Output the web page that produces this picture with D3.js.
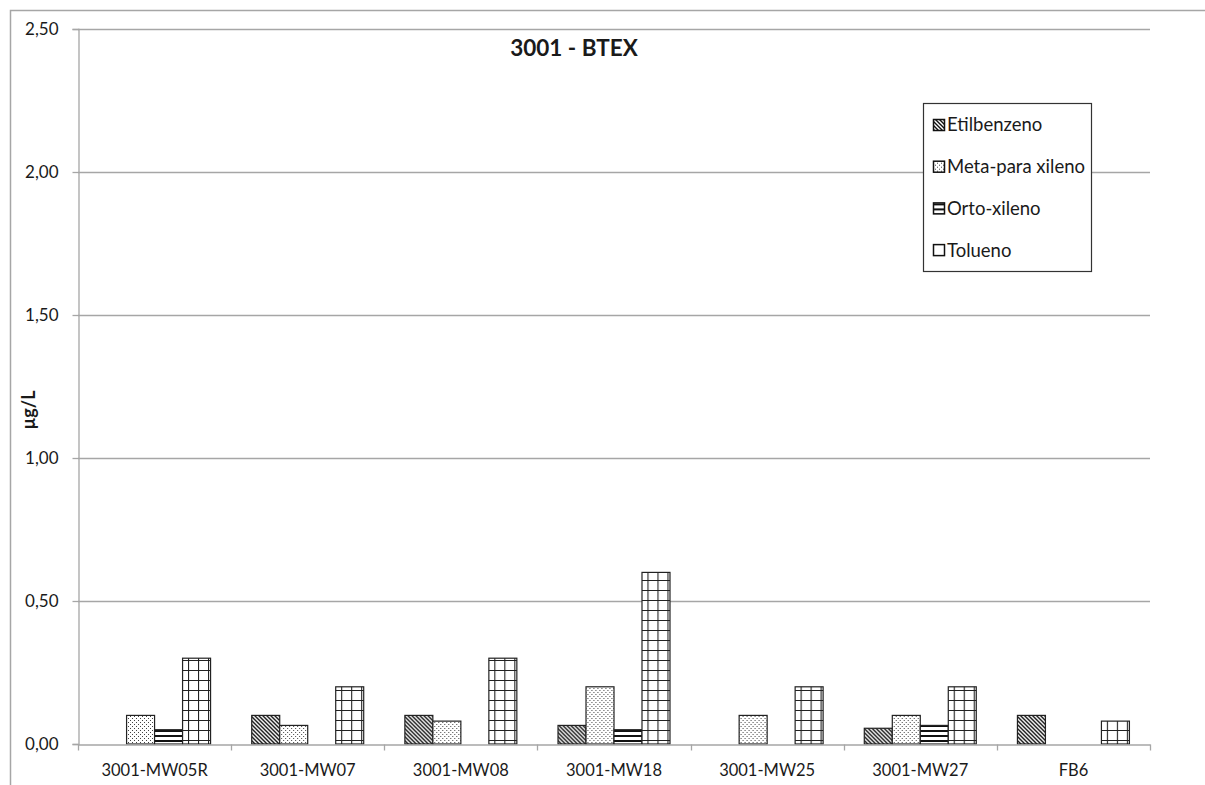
<!DOCTYPE html>
<html>
<head>
<meta charset="utf-8">
<script src="https://cdn.jsdelivr.net/npm/d3@7"></script>
<style>
  html, body { margin: 0; padding: 0; background: #fff; }
  svg { display: block; }
  text { font-family: Lato, "Open Sans", "Liberation Sans", sans-serif; fill: #1a1a1a; }
</style>
</head>
<body>
<svg id="chart" width="1205" height="785"></svg>
<script>
// Sampling wells and BTEX compounds
const categories = ["3001-MW05R", "3001-MW07", "3001-MW08", "3001-MW18", "3001-MW25", "3001-MW27", "FB6"];
const series = ["Etilbenzeno", "Meta-para xileno", "Orto-xileno", "Tolueno"];

// Concentrations (µg/L) per well, null = not detected
const etilbenzeno    = [null, 0.10, 0.10, 0.065, null, 0.055, 0.10];
const metaParaXileno = [0.10, 0.065, 0.08, 0.20, 0.10, 0.10, null];
const ortoXileno     = [0.05, null, null, 0.05, null, 0.065, null];
const tolueno        = [0.30, 0.20, 0.30, 0.60, 0.20, 0.20, 0.08];

const yTicks = [0, 0.5, 1.0, 1.5, 2.0, 2.5];
const title = "3001 - BTEX";
const yTitle = "µg/L";

const values = [etilbenzeno, metaParaXileno, ortoXileno, tolueno];

const svg = d3.select("#chart");
const plot = { left: 78, right: 1150, top: 29, bottom: 744 };

// Hatch fills
const defs = svg.append("defs");
const pat = (id, w, h) => defs.append("pattern")
  .attr("id", id).attr("patternUnits", "userSpaceOnUse")
  .attr("width", w).attr("height", h);

const pEtil = pat("p-etil", 4, 4);
pEtil.append("rect").attr("width", 4).attr("height", 4).attr("fill", "#fff");
pEtil.append("path").attr("d", "M0,0 L4,4 M-1,3 L1,5 M3,-1 L5,1")
  .attr("stroke", "#111").attr("stroke-width", 1.4);

const pMeta = pat("p-meta", 4, 4);
pMeta.append("rect").attr("width", 4).attr("height", 4).attr("fill", "#fff");
pMeta.append("rect").attr("x", 0).attr("y", 0).attr("width", 1).attr("height", 1).attr("fill", "#444");
pMeta.append("rect").attr("x", 2).attr("y", 2).attr("width", 1).attr("height", 1).attr("fill", "#444");

const pOrto = pat("p-orto", 5, 5);
pOrto.append("rect").attr("width", 5).attr("height", 5).attr("fill", "#fff");
pOrto.append("rect").attr("y", 0).attr("width", 5).attr("height", 2).attr("fill", "#111");

const pTol = pat("p-tol", 10, 10);
pTol.append("rect").attr("width", 10).attr("height", 10).attr("fill", "#fff");
pTol.append("path").attr("d", "M0,0 L10,0 M0,0 L0,10")
  .attr("stroke", "#222").attr("stroke-width", 2.2);

const fills = ["url(#p-etil)", "url(#p-meta)", "url(#p-orto)", "url(#p-tol)"];

// Outer chart frame (top and left edges)
svg.append("path").attr("d", "M10.5,785 L10.5,10.5 L1205,10.5")
  .attr("fill", "none").attr("stroke", "#a6a6a6").attr("stroke-width", 1.5);

// Scales
const x0 = d3.scaleBand().domain(categories).range([plot.left, plot.right]).paddingInner(0).paddingOuter(0);
const x1 = d3.scaleBand().domain(series).range([0, x0.bandwidth()]).paddingInner(0).paddingOuter(0.735);
const y = d3.scaleLinear().domain([0, 2.5]).range([plot.bottom, plot.top]);

const fmt = v => d3.format(".2f")(v).replace(".", ",");

// Horizontal gridlines
svg.append("g").selectAll("line").data(yTicks.filter(t => t > 0)).join("line")
  .attr("x1", plot.left).attr("x2", plot.right)
  .attr("y1", d => Math.round(y(d)) + 0.5).attr("y2", d => Math.round(y(d)) + 0.5)
  .attr("stroke", "#a6a6a6").attr("stroke-width", 1.3);

// Y axis
const yAxis = svg.append("g").attr("transform", `translate(${plot.left + 0.5},0)`)
  .call(d3.axisLeft(y).tickValues(yTicks).tickFormat(fmt).tickSize(6).tickPadding(14));
yAxis.select(".domain").attr("stroke", "#a6a6a6").attr("stroke-width", 1.3);
yAxis.selectAll(".tick line").attr("stroke", "#a6a6a6").attr("stroke-width", 1.3);
yAxis.selectAll(".tick text").attr("font-size", 17).attr("font-family", "Lato, sans-serif").attr("fill", "#1a1a1a");

// Bars
const groups = svg.append("g").selectAll("g").data(categories).join("g")
  .attr("transform", d => `translate(${x0(d)},0)`);
groups.selectAll("rect")
  .data((c, i) => series.map((s, k) => ({ s, k, v: values[k][i] })).filter(d => d.v != null))
  .join("rect")
  .attr("x", d => x1(d.s))
  .attr("width", x1.bandwidth())
  .attr("y", d => y(d.v))
  .attr("height", d => y(0) - y(d.v))
  .attr("fill", d => fills[d.k])
  .attr("stroke", "#222").attr("stroke-width", 1.2);

// X axis
const xAxis = svg.append("g").attr("transform", `translate(0,${plot.bottom + 0.5})`)
  .call(d3.axisBottom(x0).tickSize(0).tickPadding(20));
xAxis.select(".domain").attr("stroke", "#a6a6a6").attr("stroke-width", 1.3);
xAxis.selectAll(".tick text").attr("font-size", 16.5).attr("font-family", "Lato, sans-serif").attr("fill", "#1a1a1a");
// Category separators
xAxis.append("g").selectAll("line")
  .data(categories.map(c => x0(c)).concat([plot.right]))
  .join("line")
  .attr("x1", d => Math.round(d) + 0.5).attr("x2", d => Math.round(d) + 0.5)
  .attr("y1", 0).attr("y2", 6)
  .attr("stroke", "#a6a6a6").attr("stroke-width", 1.3);

// Title
svg.append("text").attr("x", 574).attr("y", 56).attr("text-anchor", "middle")
  .attr("font-size", 22.5).attr("font-weight", "bold").text(title);

// Y axis title
svg.append("text").attr("transform", "translate(35,410) rotate(-90)")
  .attr("text-anchor", "middle").attr("font-size", 18).attr("font-weight", "bold").text(yTitle);

// Legend
const legend = svg.append("g").attr("transform", "translate(923,103)");
legend.append("rect").attr("x", 0.5).attr("y", 0.5).attr("width", 168).attr("height", 168)
  .attr("fill", "#fff").attr("stroke", "#333").attr("stroke-width", 1.2);
const items = legend.selectAll("g.item").data(series).join("g").attr("class", "item")
  .attr("transform", (d, i) => `translate(10,${22 + i * 41.7})`);
items.append("rect").attr("x", 0.5).attr("y", -5.5).attr("width", 11).attr("height", 11)
  .attr("fill", (d, i) => i === 3 ? "#fff" : fills[i])
  .attr("stroke", "#111").attr("stroke-width", 1.5);
items.append("text").attr("x", 14).attr("y", 0).attr("dy", "0.35em")
  .attr("font-size", 18.5).text(d => d);
</script>
</body>
</html>
